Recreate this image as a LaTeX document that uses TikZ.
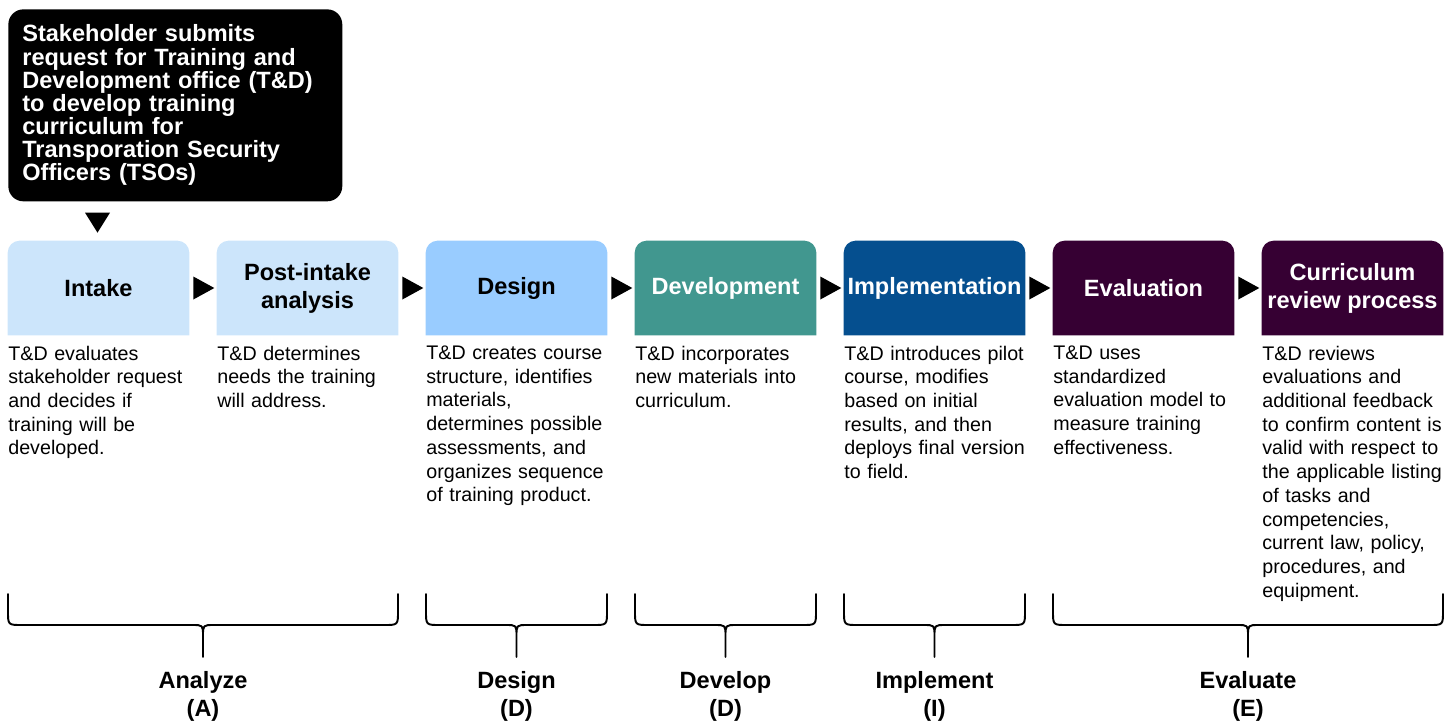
\documentclass[tikz,border=0pt]{standalone}
\usepackage{fontspec}
\setmainfont{Liberation Sans}
\usetikzlibrary{calc,backgrounds}
\definecolor{paleblue}{HTML}{CCE5FB}
\definecolor{skyblue}{HTML}{99CCFF}
\definecolor{tealgreen}{HTML}{41978F}
\definecolor{deepblue}{HTML}{054F8F}
\definecolor{plum}{HTML}{360033}
\tikzset{
  stage/.style={minimum width=3.62cm, minimum height=1.88cm, inner sep=0pt, align=center,
    font=\fontsize{13.4}{15.9}\selectfont\bfseries},
  desc/.style={anchor=north west, inner sep=0pt, text width=4cm, align=left,
    font=\fontsize{11.2}{13.5}\selectfont},
  phase/.style={anchor=north, inner sep=0pt, align=center,
    font=\fontsize{13.4}{15.9}\selectfont\bfseries},
  brc/.style={line width=1.1pt, line cap=round, line join=round},
}
\begin{document}
\begin{tikzpicture}[x=0.02cm, y=-0.02cm]
	\useasboundingbox (0,0) rectangle (1455,721);
	% request from the stakeholder
	\node[fill=black, text=white, rounded corners=0.3cm, anchor=north west, minimum width=6.68cm,
	  minimum height=3.84cm, text width=6.12cm, inner xsep=0.28cm, align=left,
	  font=\fontsize{13.4}{13.2}\selectfont\bfseries] (req) at (8,9)
	  {Stakeholder submits\\request for Training and\\Development office (T\&D)\\to develop training\\curriculum for\\Transporation Security\\Officers (TSOs)};
	
	% the seven stages
	\foreach \i/\lbl/\txt in {1/Intake/black, 2/Post-intake\\analysis/black, 3/Design/black,
	  4/Development/white, 5/Implementation/white, 6/Evaluation/white, 7/Curriculum\\review process/white}
	\node[stage, text=\txt] (b\i) at ({98.5+209*(\i-1)},288) {\lbl};
	\begin{scope}[on background layer]
	\foreach \i/\col in {1/paleblue,2/paleblue,3/skyblue,4/tealgreen,5/deepblue,6/plum,7/plum}
	\fill[\col] (b\i.south west) [rounded corners=0.24cm] -- (b\i.north west) -- (b\i.north east)
	  [sharp corners] -- (b\i.south east) -- cycle;
	\end{scope}
	
	% arrow heads
	\fill ($(b1.north)+(-13.5,-28)$) -- ++(25,0) -- ++(-12.5,20) -- cycle;
	\foreach \i in {1,...,6}
	\fill ($(b\i.east)+(4,-11.5)$) -- ++(21,11.5) -- ++(-21,11.5) -- cycle;
	
	% what T&D does
	\foreach \i/\txt in {
	  1/{T\&D evaluates\\stakeholder request\\and decides if\\training will be\\developed.},
	  2/{T\&D determines\\needs the training\\will address.},
	  3/{T\&D creates course\\structure, identifies\\materials,\\determines possible\\assessments, and\\organizes sequence\\of training product.},
	  4/{T\&D incorporates\\new materials into\\curriculum.},
	  5/{T\&D introduces pilot\\course, modifies\\based on initial\\results, and then\\deploys final version\\to field.},
	  6/{T\&D uses\\standardized\\evaluation model to\\measure training\\effectiveness.},
	  7/{T\&D reviews\\evaluations and\\additional feedback\\to confirm content is\\valid with respect to\\the applicable listing\\of tasks and\\competencies,\\current law, policy,\\procedures, and\\equipment.}}
	\node[desc] (d\i) at ({8+209*(\i-1)},345.5) {\txt};
	
	% ADDIE braces
	\foreach \a/\b/\lbl [count=\k] in {8/398/Analyze\\(A), 426/607/Design\\(D), 635/816/Develop\\(D),
	  844/1025/Implement\\(I), 1053/1443/Evaluate\\(E)}
	{
	\pgfmathsetmacro\m{(\a+\b)/2}
	\draw[brc] (\a,594) -- (\a,611) .. controls (\a,625) .. (\a+14,625) -- (\m-11,625)
	  .. controls (\m,625) .. (\m,636) -- (\m,657)
	  (\b,594) -- (\b,611) .. controls (\b,625) .. (\b-14,625) -- (\m+11,625)
	  .. controls (\m,625) .. (\m,636);
	\node[phase] (ph\k) at (\m,671) {\lbl};
	}
\end{tikzpicture}
\end{document}
